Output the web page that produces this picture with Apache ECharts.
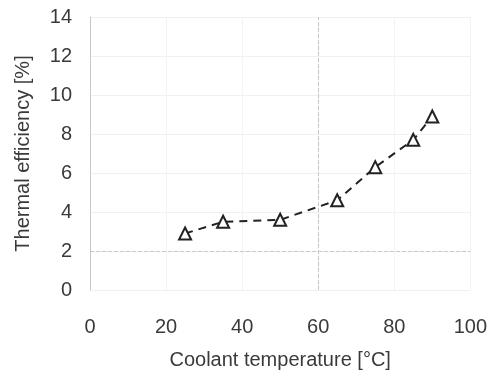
<!DOCTYPE html>
<html><head><meta charset="utf-8">
<script src="https://cdn.jsdelivr.net/npm/echarts@6/dist/echarts.min.js"></script>
<style>html,body{margin:0;padding:0;background:#fff}#c{width:490px;height:376px}</style>
</head><body><div id="c"></div>
<script>
const temperature = [25, 35, 50, 65, 75, 85, 90];
const efficiency = [2.9, 3.5, 3.6, 4.6, 6.3, 7.7, 8.9];
const xTicks = [0, 20, 40, 60, 80, 100];
const yTicks = [0, 2, 4, 6, 8, 10, 12, 14];
const xName = 'Coolant temperature [\u00b0C]';
const yName = 'Thermal efficiency [%]';

const chart = echarts.init(document.getElementById('c'));
const txt = '#3a3a3a';
const ff = 'Liberation Sans';
chart.setOption({
  animation: false,
  grid: {left: 90, right: 18, top: 17, bottom: 86},
  xAxis: {
    type: 'value', min: xTicks[0], max: xTicks[xTicks.length-1], interval: 20,
    name: xName, nameLocation: 'middle', nameGap: 60,
    nameTextStyle: {fontFamily: ff, fontSize: 20, color: txt},
    axisLine: {show: false}, axisTick: {show: false},
    axisLabel: {margin: 27, fontFamily: ff, fontSize: 20, color: txt},
    splitLine: {show: true, lineStyle: {color: '#f3f3f3'}}
  },
  yAxis: {
    type: 'value', min: yTicks[0], max: yTicks[yTicks.length-1], interval: 2,
    name: yName, nameLocation: 'middle', nameGap: 57,
    nameTextStyle: {fontFamily: ff, fontSize: 20, color: txt},
    axisLine: {show: true, lineStyle: {color: '#c8c8c8'}},
    axisTick: {show: false},
    axisLabel: {margin: 18, fontFamily: ff, fontSize: 20, color: txt},
    splitLine: {show: true, lineStyle: {color: '#f0f0f0'}}
  },
  series: [{
    type: 'line',
    data: temperature.map((t, i) => [t, efficiency[i]]),
    symbol: 'triangle', symbolSize: 12,
    itemStyle: {color: '#fff', borderColor: '#222', borderWidth: 2},
    lineStyle: {color: '#222', width: 2, type: [8, 6]},
    markLine: {
      silent: true, symbol: 'none', label: {show: false},
      lineStyle: {color: '#c8c8c8', type: 'dashed', width: 1},
      data: [{yAxis: 2}, {xAxis: 60}]
    },
    z: 3
  }]
});
</script></body></html>
